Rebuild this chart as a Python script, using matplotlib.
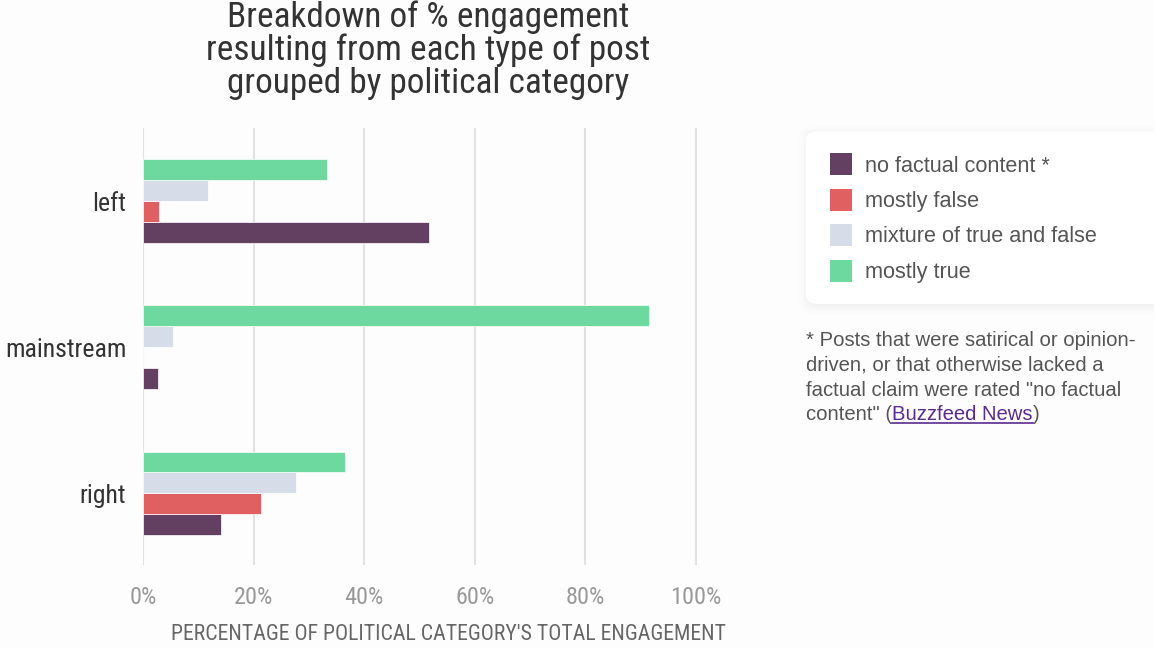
import matplotlib
matplotlib.use("Agg")
import matplotlib.pyplot as plt
from matplotlib.patches import FancyBboxPatch, Rectangle
from matplotlib import font_manager
import numpy as np

categories = ["left", "mainstream", "right"]
series = ["no factual content *", "mostly false", "mixture of true and false", "mostly true"]
no_factual = [51.8, 2.7, 14.1]
mostly_false = [2.9, 0.0, 21.3]
mixture = [11.7, 5.4, 27.6]
mostly_true = [33.2, 91.5, 36.5]
values = [no_factual, mostly_false, mixture, mostly_true]
colors = ["#634061", "#e06061", "#d6dde8", "#6dd99f"]
xticks = [0, 20, 40, 60, 80, 100]
xticklabels = ["0%", "20%", "40%", "60%", "80%", "100%"]

names = {f.name for f in font_manager.fontManager.ttflist}
narrow = "Roboto"
for cand in ["Liberation Sans Narrow", "Roboto Condensed", "Open Sans Condensed", "Noto Sans Condensed"]:
    if cand in names:
        narrow = cand
        break
sans = "Liberation Sans"

W, H = 1154, 648
fig = plt.figure(figsize=(W / 100, H / 100), dpi=100)
fig.patch.set_facecolor("#fdfdfd")

ax = fig.add_axes([143 / W, 1 - 565 / H, (697 - 143) / W, (565 - 128) / H])
ax.set_facecolor("none")

bar_h = 0.143
offsets = [0.215, 0.072, -0.072, -0.215]
y = np.arange(len(categories))
for vals, col, off in zip(values, colors, offsets):
    ax.barh(y + off, vals, height=bar_h, color=col, edgecolor="white", linewidth=0.5, zorder=3)

ax.set_xlim(0, 100.2)
ax.set_ylim(2.49, -0.5)
ax.set_xticks(xticks)
ax.set_xticklabels(xticklabels, fontfamily=narrow, fontsize=17.5, color="#999999")
ax.set_yticks(y)
ax.set_yticklabels(categories, fontfamily=narrow, fontsize=18.6, color="#333333")
ax.tick_params(axis="both", length=0)
ax.tick_params(axis="x", pad=15)
ax.tick_params(axis="y", pad=12)
ax.grid(axis="x", color="#e2e2e2", linewidth=1.5, zorder=0)
for s in ax.spines.values():
    s.set_visible(False)
fig.text(448.5 / W, 1 - 635 / H, "PERCENTAGE OF POLITICAL CATEGORY'S TOTAL ENGAGEMENT",
         ha="center", va="center", fontfamily=narrow, fontsize=15.7, color="#666666")

fig.text(428.5 / W, 1 - 50 / H,
         "Breakdown of % engagement\nresulting from each type of post\ngrouped by political category",
         ha="center", va="center", fontfamily=narrow, fontsize=25.4, fontweight="normal",
         color="#333333", linespacing=0.99)

# legend box with shadow
for i, a in enumerate([0.015, 0.012, 0.009, 0.006]):
    sh = FancyBboxPatch((806 / W - i * 0.002, 1 - 306 / H - i * 0.004), 360 / W + i * 0.004,
                        175 / H + i * 0.006, boxstyle="round,pad=0,rounding_size=0.012",
                        transform=fig.transFigure, facecolor="black", alpha=a,
                        edgecolor="none", zorder=0)
    fig.patches.append(sh)
box = FancyBboxPatch((806 / W, 1 - 304 / H), 360 / W, 173 / H,
                     boxstyle="round,pad=0,rounding_size=0.012", transform=fig.transFigure,
                     facecolor="white", edgecolor="none", zorder=1)
fig.patches.append(box)

for i, (name, col) in enumerate(zip(series, colors)):
    yc = 164 + i * 35.5
    fig.patches.append(Rectangle((830 / W, 1 - (yc + 11) / H), 22 / W, 22 / H,
                                 transform=fig.transFigure, facecolor=col, edgecolor="none",
                                 zorder=2))
    fig.text(865 / W, 1 - (yc + 2) / H, name, ha="left", va="center", fontfamily=sans,
             fontsize=15.6, color="#555555", zorder=3)

fs_note = 14.6
note_lines = ["* Posts that were satirical or opinion-",
              "driven, or that otherwise lacked a",
              "factual claim were rated \"no factual",
              "content\" ("]
for i, line in enumerate(note_lines):
    t = fig.text(806 / W, 1 - (340 + i * 25) / H, line, ha="left", va="center",
                 fontfamily=sans, fontsize=fs_note, color="#555555")
fig.canvas.draw()
bb = t.get_window_extent()
t2 = fig.text(bb.x1 / W, 1 - (340 + 3 * 25) / H, "Buzzfeed News", ha="left", va="center",
              fontfamily=sans, fontsize=fs_note, color="#5b2c8f")
fig.canvas.draw()
bb2 = t2.get_window_extent()
fig.add_artist(plt.Line2D([bb2.x0 / W, bb2.x1 / W], [bb2.y0 / H + 0.002, bb2.y0 / H + 0.002],
                          color="#5b2c8f", linewidth=1.2, transform=fig.transFigure))
fig.text(bb2.x1 / W, 1 - (340 + 3 * 25) / H, ")", ha="left", va="center",
         fontfamily=sans, fontsize=fs_note, color="#555555")

fig.savefig("out.png", dpi=100, facecolor=fig.get_facecolor())
